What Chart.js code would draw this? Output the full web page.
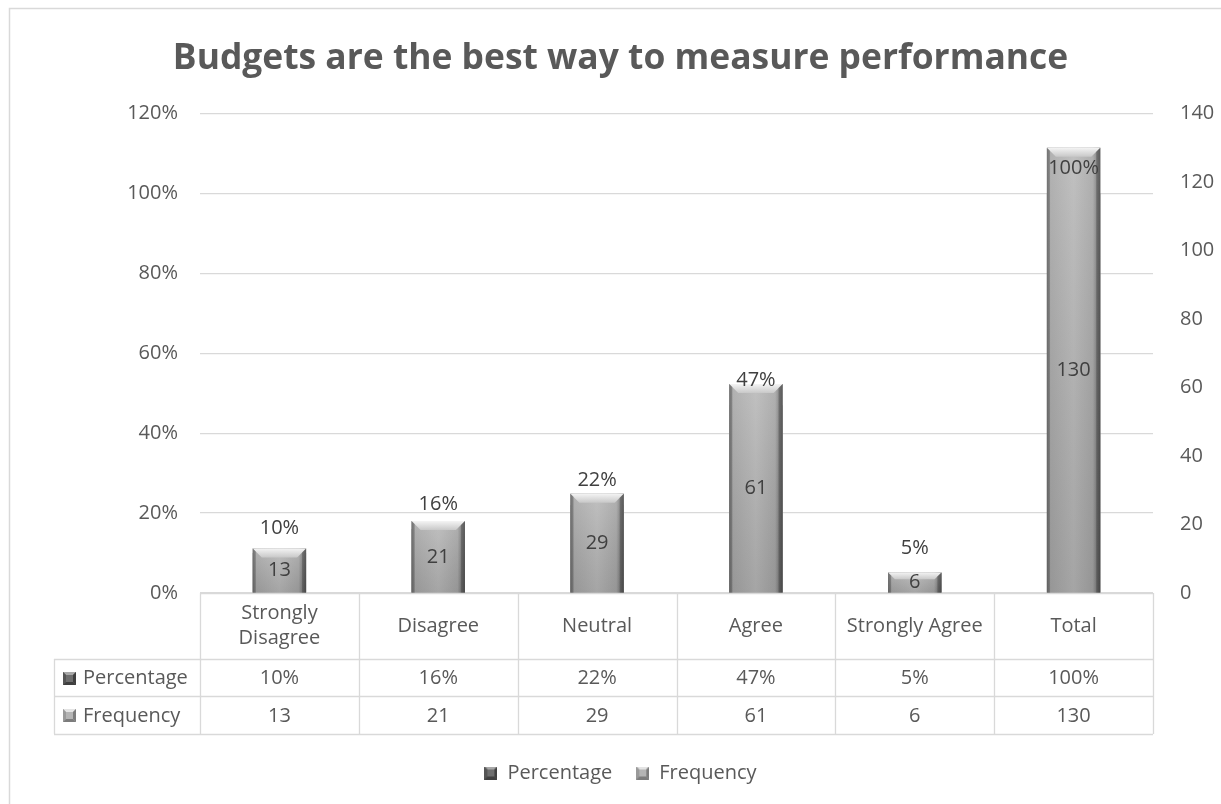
<!DOCTYPE html>
<html>
<head>
<meta charset="utf-8">
<script src="https://cdn.jsdelivr.net/npm/chart.js@4.4.1/dist/chart.umd.min.js"></script>
<style>
  html, body { margin: 0; padding: 0; background: #fff; }
  #chart { display: block; }
</style>
</head>
<body>
<canvas id="chart" width="1221" height="804"></canvas>
<script>
// data
const categories = [['Strongly', 'Disagree'], 'Disagree', 'Neutral', 'Agree', 'Strongly Agree', 'Total'];
const percentage = [10, 16, 22, 47, 5, 100];
const frequency = [13, 21, 29, 61, 6, 130];
const seriesNames = ['Percentage', 'Frequency'];

const FONT = "'Open Sans', 'Noto Sans', sans-serif";
const TEXT = '#595959';
const LINE = '#d9d9d9';

// small bevelled square used in legend and data table
function makeIcon(base, light, side, dark) {
  const c = document.createElement('canvas');
  c.width = 13; c.height = 13;
  const g = c.getContext('2d');
  g.fillStyle = base; g.fillRect(0, 0, 13, 13);
  g.fillStyle = light;
  g.beginPath(); g.moveTo(0, 0); g.lineTo(13, 0); g.lineTo(10, 3); g.lineTo(3, 3); g.closePath(); g.fill();
  g.fillStyle = side;
  g.beginPath(); g.moveTo(0, 0); g.lineTo(3, 3); g.lineTo(3, 10); g.lineTo(0, 13); g.closePath(); g.fill();
  g.fillStyle = dark;
  g.beginPath(); g.moveTo(13, 0); g.lineTo(10, 3); g.lineTo(10, 10); g.lineTo(13, 13); g.closePath(); g.fill();
  g.beginPath(); g.moveTo(0, 13); g.lineTo(3, 10); g.lineTo(10, 10); g.lineTo(13, 13); g.closePath(); g.fill();
  return c;
}
const icons = [
  makeIcon('#6e6e6e', '#a8a8a8', '#555555', '#3f3f3f'),
  makeIcon('#b4b4b4', '#e4e4e4', '#9a9a9a', '#7c7c7c')
];

const frame = {
  id: 'frame',
  beforeDraw(chart) {
    const ctx = chart.ctx;
    ctx.save();
    ctx.fillStyle = '#fff';
    ctx.fillRect(0, 0, chart.width, chart.height);
    ctx.strokeStyle = LINE;
    ctx.lineWidth = 1.5;
    ctx.beginPath();
    ctx.moveTo(9.5, chart.height);
    ctx.lineTo(9.5, 8.5);
    ctx.lineTo(chart.width, 8.5);
    ctx.stroke();
    ctx.restore();
  }
};

// bevel look on the front (frequency) bars, then value labels
const bevel = {
  id: 'bevel',
  afterDatasetsDraw(chart) {
    const ctx = chart.ctx;
    ctx.save();
    chart.getDatasetMeta(1).data.forEach(el => {
      const l = el.x - el.width / 2, r = el.x + el.width / 2, t = el.y, btm = el.base;
      const b = Math.min(9, (btm - t) / 3);
      let g = ctx.createLinearGradient(l, 0, r, 0);
      g.addColorStop(0, '#7c7c7c');
      g.addColorStop(0.07, '#a8a8a8');
      g.addColorStop(0.5, '#b8b8b8');
      g.addColorStop(0.86, '#a6a6a6');
      g.addColorStop(1, '#5e5e5e');
      ctx.fillStyle = g;
      ctx.fillRect(l, t, r - l, btm - t);
      g = ctx.createLinearGradient(0, t, 0, btm);
      g.addColorStop(0, 'rgba(255,255,255,0.12)');
      g.addColorStop(1, 'rgba(0,0,0,0.10)');
      ctx.fillStyle = g;
      ctx.fillRect(l, t, r - l, btm - t);
      // top bevel
      g = ctx.createLinearGradient(0, t, 0, t + b);
      g.addColorStop(0, '#f4f4f4');
      g.addColorStop(1, '#c8c8c8');
      ctx.fillStyle = g;
      ctx.beginPath();
      ctx.moveTo(l, t); ctx.lineTo(r, t); ctx.lineTo(r - b, t + b); ctx.lineTo(l + b, t + b);
      ctx.closePath(); ctx.fill();
      // left and right bevel faces
      ctx.fillStyle = 'rgba(70,70,70,0.35)';
      ctx.beginPath();
      ctx.moveTo(l, t); ctx.lineTo(l + 3, t + 3); ctx.lineTo(l + 3, btm); ctx.lineTo(l, btm);
      ctx.closePath(); ctx.fill();
      ctx.fillStyle = 'rgba(40,40,40,0.30)';
      ctx.beginPath();
      ctx.moveTo(r, t); ctx.lineTo(r - 4, t + 4); ctx.lineTo(r - 4, btm); ctx.lineTo(r, btm);
      ctx.closePath(); ctx.fill();
    });

    ctx.font = '20px ' + FONT;
    ctx.fillStyle = '#404040';
    ctx.textAlign = 'center';
    ctx.textBaseline = 'middle';
    chart.getDatasetMeta(1).data.forEach((el, i) => {
      ctx.fillText(String(frequency[i]), el.x, (el.y + el.base) / 2);
    });
    chart.getDatasetMeta(0).data.forEach((el, i) => {
      ctx.fillText(percentage[i] + '%', el.x, el.y - 25);
    });
    ctx.restore();
  }
};

// Excel style data table under the plot
const dataTable = {
  id: 'dataTable',
  afterDraw(chart) {
    const ctx = chart.ctx;
    const xs = chart.scales.x;
    const n = categories.length;
    const cw = (xs.right - xs.left) / n;
    const top = chart.chartArea.bottom;
    const rows = [top, top + 66, top + 103, top + 141];
    const headL = 54;
    ctx.save();
    ctx.strokeStyle = LINE;
    ctx.lineWidth = 1.3;
    ctx.beginPath();
    ctx.moveTo(xs.left, rows[0] + 0.5); ctx.lineTo(xs.right, rows[0] + 0.5);
    for (let r = 1; r < rows.length; r++) {
      ctx.moveTo(headL, rows[r] + 0.5); ctx.lineTo(xs.right, rows[r] + 0.5);
    }
    for (let i = 0; i <= n; i++) {
      const x = Math.round(xs.left + i * cw) + 0.5;
      ctx.moveTo(x, rows[0]); ctx.lineTo(x, rows[3]);
    }
    ctx.moveTo(headL + 0.5, rows[1]); ctx.lineTo(headL + 0.5, rows[3]);
    ctx.stroke();

    ctx.font = '20px ' + FONT;
    ctx.fillStyle = TEXT;
    ctx.textAlign = 'center';
    ctx.textBaseline = 'middle';
    categories.forEach((c, i) => {
      const cx = xs.left + (i + 0.5) * cw;
      const lines = Array.isArray(c) ? c : [c];
      const mid = (rows[0] + rows[1]) / 2;
      lines.forEach((s, k) => ctx.fillText(s, cx, mid + (k - (lines.length - 1) / 2) * 25));
      ctx.fillText(percentage[i] + '%', cx, (rows[1] + rows[2]) / 2 + 1);
      ctx.fillText(String(frequency[i]), cx, (rows[2] + rows[3]) / 2 + 1);
    });
    ctx.textAlign = 'left';
    [[rows[1], rows[2]], [rows[2], rows[3]]].forEach(([a, b], k) => {
      const my = (a + b) / 2;
      ctx.drawImage(icons[k], 63, Math.round(my - 6));
      ctx.fillText(seriesNames[k], 83, my + 1);
    });
    ctx.restore();
  }
};

new Chart(document.getElementById('chart'), {
  type: 'bar',
  data: {
    labels: categories,
    datasets: [
      {
        label: seriesNames[0],
        data: percentage,
        yAxisID: 'y',
        backgroundColor: '#6e6e6e',
        order: 2
      },
      {
        label: seriesNames[1],
        data: frequency,
        yAxisID: 'y1',
        backgroundColor: '#aaaaaa',
        order: 1
      }
    ]
  },
  options: {
    responsive: false,
    animation: false,
    datasets: {
      bar: { grouped: false, categoryPercentage: 1, barPercentage: 0.336 }
    },
    // the Excel chart frame runs past the right edge, so everything centres ~10px right
    layout: { padding: { left: 20, right: 0, top: 0, bottom: 11 } },
    plugins: {
      title: {
        display: true,
        text: 'Budgets are the best way to measure performance',
        color: TEXT,
        font: { family: FONT, size: 35.4, weight: 'bold' },
        padding: { top: 38, bottom: 33 }
      },
      legend: {
        position: 'bottom',
        labels: {
          color: TEXT,
          font: { family: FONT, size: 20 },
          usePointStyle: true,
          boxWidth: 13,
          boxHeight: 13,
          padding: 24,
          generateLabels: chart => chart.data.datasets.map((ds, i) => ({
            text: ds.label,
            pointStyle: icons[i],
            datasetIndex: i,
            fontColor: TEXT,
            hidden: false,
            lineWidth: 0,
            strokeStyle: 'rgba(0,0,0,0)',
            fillStyle: 'rgba(0,0,0,0)'
          }))
        }
      },
      tooltip: { enabled: false }
    },
    scales: {
      x: {
        grid: { display: false },
        border: { display: false },
        ticks: { display: false },
        afterFit: s => { s.height = 146; }
      },
      y: {
        position: 'left',
        min: 0,
        max: 120,
        ticks: { stepSize: 20, padding: 22, color: TEXT, font: { family: FONT, size: 20 }, callback: v => v + '%' },
        grid: { color: LINE, lineWidth: 1.3, drawTicks: false },
        border: { display: false },
        afterFit: s => { s.width = 180; }
      },
      y1: {
        position: 'right',
        min: 0,
        max: 140,
        ticks: { stepSize: 20, padding: 27, color: TEXT, font: { family: FONT, size: 20 } },
        grid: { display: false, drawTicks: false },
        border: { display: false },
        afterFit: s => { s.width = 68; }
      }
    }
  },
  plugins: [frame, bevel, dataTable]
});
</script>
</body>
</html>
